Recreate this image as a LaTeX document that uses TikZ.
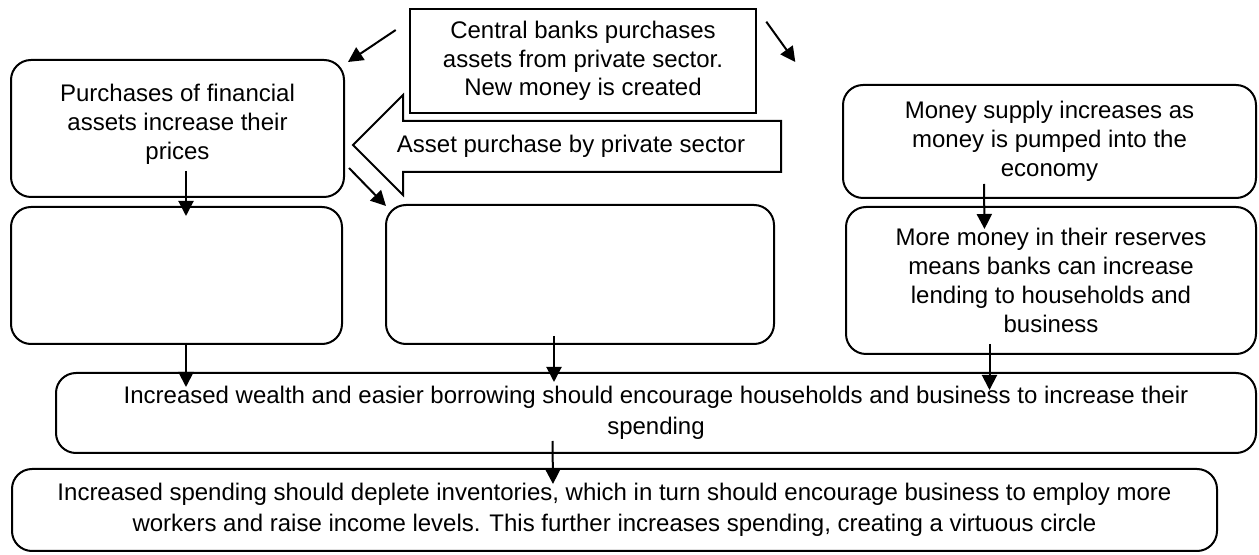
\documentclass[tikz,border=0pt]{standalone}
\usepackage{fontspec}
\setmainfont{Liberation Sans}
\usetikzlibrary{arrows.meta}

\begin{document}
\begin{tikzpicture}[x=0.5pt, y=-0.5pt,
  box/.style={draw, line width=1pt, rounded corners=10pt, align=center, inner sep=0pt,
    font=\fontsize{12}{14.5}\selectfont},
  widebox/.style={box, font=\fontsize{12}{15.5}\selectfont},
  bankbox/.style={draw, line width=1.3pt, fill=white, align=center, inner sep=0pt,
    font=\fontsize{12}{14.2}\selectfont},
  flow/.style={line width=1pt, arrows={-Triangle[length=7.5pt,width=7.5pt]}}]
  \useasboundingbox (0,0) rectangle (1259,555);

  % big hollow arrow behind the bank box
  \draw[line width=1pt, line join=miter] (781,121) -- (403,121) -- (403,95) -- (353,145)
    -- (403,195) -- (403,172) -- (781,172) -- cycle;
  \node[font=\fontsize{12}{14}\selectfont] (buy) at (571,146) {Asset purchase by private sector};

  \node[bankbox, minimum width=173pt, minimum height=52pt] (bank) at (583,61)
    {Central banks purchases\\assets from private sector.\\New money is created};
  \node[box, minimum width=166.5pt, minimum height=68.5pt] (prices) at (177.5,128.5)
    {Purchases of financial\\assets increase their\\prices\\[-8pt]};
  \node[box, minimum width=165.5pt, minimum height=68.5pt] (blankL) at (176.5,275.5) {};
  \node[box, minimum width=194pt, minimum height=69.5pt] (blankM) at (580,274.5) {};
  \node[box, minimum width=206.5pt, minimum height=56.5pt] (supply) at (1049.5,141.5)
    {Money supply increases as\\money is pumped into the\\economy};
  \node[box, minimum width=205pt, minimum height=73.5pt] (reserves) at (1051,280.5)
    {More money in their reserves\\means banks can increase\\lending to households and\\business};
  \node[widebox, minimum width=600pt, minimum height=40pt] (spend) at (656,413)
    {Increased wealth and easier borrowing should encourage households and business to increase their\\spending};
  \node[widebox, minimum width=602.5pt, minimum height=41pt] (virtuous) at (614.5,510)
    {Increased spending should deplete inventories, which in turn should encourage business to employ more\\workers and raise income levels. This further increases spending, creating a virtuous circle};

  \draw[flow] ([shift={(-6.5pt,15.5pt)}]bank.west) -- ([shift={(1.5pt,-1.5pt)}]prices.north east);
  \draw[flow] ([shift={(4.5pt,-7pt)}]bank.north east) -- ([shift={(19pt,-0.5pt)}]bank.east);
  \draw[flow] ([shift={(2pt,15pt)}]prices.south east) -- ([shift={(0.5pt,-1pt)}]blankM.north west);
  \draw[flow] ([shift={(4.25pt,13.5pt)}]prices.south) -- ([shift={(4.75pt,-5pt)}]blankL.north);
  \draw[flow] ([shift={(4.75pt,1pt)}]blankL.south) -- ([shift={(4.75pt,-7.5pt)}]blankL.south |- spend.north);
  \draw[flow] ([shift={(-13pt,4.5pt)}]blankM.south) -- ([shift={(-13pt,-5pt)}]blankM.south |- spend.north);
  \draw[flow] ([shift={(-32.75pt,7.5pt)}]supply.south) -- ([shift={(-33.25pt,-11.5pt)}]reserves.north);
  \draw[flow] ([shift={(-30.75pt,5.5pt)}]reserves.south) -- ([shift={(-30.75pt,-9pt)}]reserves.south |- spend.north);
  \draw[flow] ([shift={(-51.75pt,6.5pt)}]spend.south) -- ([shift={(-30.75pt,-8pt)}]virtuous.north);
\end{tikzpicture}
\end{document}
